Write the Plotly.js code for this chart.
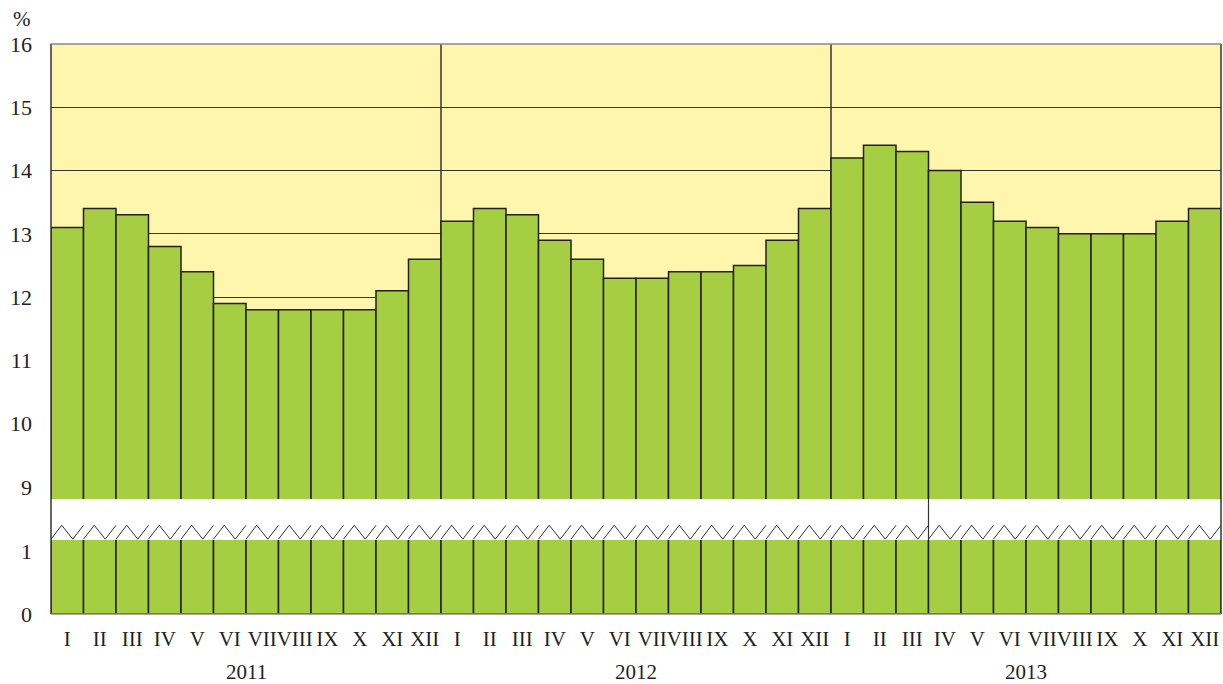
<!DOCTYPE html>
<html>
<head>
<meta charset="utf-8">
<script src="https://cdn.plot.ly/plotly-3.0.1.min.js"></script>
<style>html,body{margin:0;padding:0;background:#fff;}#chart{width:1223px;height:684px;}</style>
</head>
<body>
<div id="chart"></div>
<script>
// Data
const years = ["2011", "2012", "2013"];
const months = ["I","II","III","IV","V","VI","VII","VIII","IX","X","XI","XII"];
const rate2011 = [13.1, 13.4, 13.3, 12.8, 12.4, 11.9, 11.8, 11.8, 11.8, 11.8, 12.1, 12.6];
const rate2012 = [13.2, 13.4, 13.3, 12.9, 12.6, 12.3, 12.3, 12.4, 12.4, 12.5, 12.9, 13.4];
const rate2013 = [14.2, 14.4, 14.3, 14.0, 13.5, 13.2, 13.1, 13.0, 13.0, 13.0, 13.2, 13.4];
const yTicksTop = [9, 10, 11, 12, 13, 14, 15, 16];
const yTicksBottom = [0, 1];

const values = rate2011.concat(rate2012, rate2013);
const labels = months.concat(months, months);
const xs = values.map((v, i) => i);
const n = values.length;

const green = "#A6CE42";
const outline = "#231F20";
const textColor = "#231F20";
const font = "Liberation Serif, serif";

const barStyle = {color: green, line: {color: outline, width: 1.5}};
const barTop = {type: "bar", x: xs, y: values, xaxis: "x", yaxis: "y2", marker: barStyle, hoverinfo: "x+y"};
const barBottom = {type: "bar", x: xs, y: values, xaxis: "x", yaxis: "y", marker: barStyle, hoverinfo: "skip"};

// zigzag break markers, one per bar
const zx = [], zy = [];
for (let i = 0; i < n; i++) {
  const L = i - 0.5;
  zx.push(L, L + 0.33, L + 0.67, L + 1, null);
  zy.push(0.02, 0.36, 0.02, 0.36, null);
}
const zig = {type: "scatter", mode: "lines", x: zx, y: zy, xaxis: "x", yaxis: "y3",
  line: {color: "#333", width: 1}, hoverinfo: "skip", connectgaps: false};

const shapes = [
  {type: "rect", xref: "paper", yref: "y2 domain", x0: 0, x1: 1, y0: 0, y1: 1,
   fillcolor: "#FFF6AE", line: {width: 0}, layer: "below"},
  {type: "line", xref: "x", yref: "y2 domain", x0: 11.5, x1: 11.5, y0: 0, y1: 1,
   line: {color: "#333", width: 1.5}, layer: "below"},
  {type: "line", xref: "x", yref: "y2 domain", x0: 23.5, x1: 23.5, y0: 0, y1: 1,
   line: {color: "#333", width: 1.5}, layer: "below"},
  {type: "line", xref: "x", yref: "y3 domain", x0: 26.5, x1: 26.5, y0: 0, y1: 1,
   line: {color: "#333", width: 1.2}},
  {type: "line", xref: "paper", yref: "paper", x0: 0, x1: 0, y0: 0, y1: 1,
   line: {color: "#333", width: 1.5}},
  {type: "line", xref: "paper", yref: "paper", x0: 1, x1: 1, y0: 0, y1: 1,
   line: {color: "#333", width: 1.5}},
  {type: "line", xref: "paper", yref: "paper", x0: 0, x1: 1, y0: 1, y1: 1,
   line: {color: "#888", width: 1.5}},
  {type: "line", xref: "paper", yref: "paper", x0: 0, x1: 1, y0: 0, y1: 0,
   line: {color: "#888", width: 1.5}}
];

const annotations = years.map((yr, k) => ({
  text: yr, xref: "x", yref: "paper", x: k * 12 + 5.5, y: -0.102,
  xanchor: "center", yanchor: "middle", showarrow: false,
  font: {family: font, size: 21, color: textColor}
}));
annotations.push({text: "%", xref: "paper", yref: "paper", x: -0.025, y: 1.044,
  xanchor: "center", yanchor: "middle", showarrow: false,
  font: {family: font, size: 21, color: textColor}});

const layout = {
  width: 1223, height: 684,
  margin: {l: 51, r: 2, t: 44, b: 70},
  paper_bgcolor: "#ffffff", plot_bgcolor: "rgba(0,0,0,0)",
  showlegend: false, bargap: 0,
  font: {family: font, size: 21, color: textColor},
  xaxis: {range: [-0.5, n - 0.5], tickvals: xs, ticktext: labels, tickangle: 0,
    showgrid: false, zeroline: false, showline: false, ticks: "", ticklabelstandoff: 10,
    tickfont: {family: font, size: 21, color: textColor}, anchor: "y", fixedrange: true},
  yaxis: {domain: [0, 0.1298], range: [0, 1.175], tickvals: yTicksBottom, ticktext: yTicksBottom.map(String),
    showgrid: false, zeroline: false, showline: false, ticks: "", ticklabelstandoff: 18,
    tickfont: {family: font, size: 22, color: textColor}, anchor: "x"},
  yaxis2: {domain: [0.2018, 1], range: [8.81, 16], tickvals: yTicksTop, ticktext: yTicksTop.map(String),
    showgrid: true, gridcolor: "#333", gridwidth: 1, zeroline: false, showline: false, ticks: "",
    ticklabelstandoff: 18, tickfont: {family: font, size: 22, color: textColor}, anchor: "x"},
  yaxis3: {domain: [0.1298, 0.2018], range: [0, 1], visible: false, anchor: "x"},
  shapes: shapes,
  annotations: annotations
};

Plotly.newPlot("chart", [barTop, barBottom, zig], layout, {displayModeBar: false, staticPlot: true});
</script>
</body>
</html>
